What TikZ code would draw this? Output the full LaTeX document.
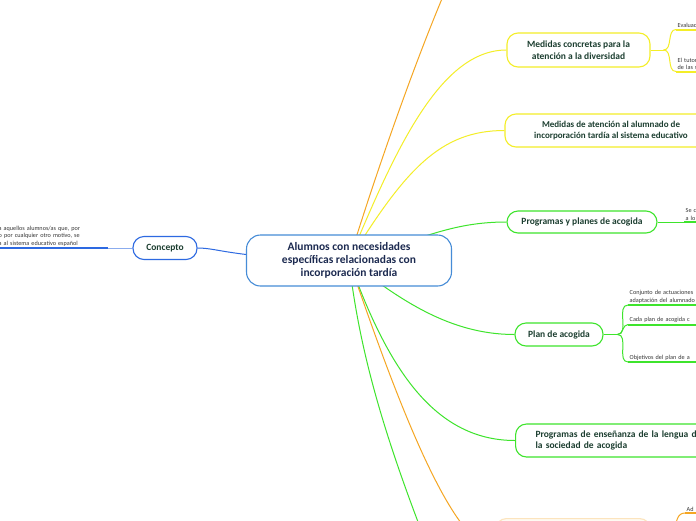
\documentclass[tikz,border=0pt]{standalone}
\usepackage{fontspec}
\setmainfont{Carlito}
\usepackage{xcolor}
\usetikzlibrary{backgrounds}
\definecolor{mmorange}{RGB}{245,166,35}
\definecolor{mmyellow}{RGB}{244,238,40}
\definecolor{mmgreen}{RGB}{62,228,44}
\definecolor{mmblue}{RGB}{45,105,225}
\definecolor{rootblue}{RGB}{70,140,215}
\definecolor{topictext}{RGB}{28,62,48}
\definecolor{roottext}{RGB}{28,42,80}
\definecolor{leaftext}{RGB}{55,55,55}

\begin{document}
\begin{tikzpicture}[
  x=1pt,y=-1pt,
  root/.style={draw=rootblue, fill=white, line width=1.1pt, rounded corners=14pt, align=center, text=roottext, font=\bfseries\fontsize{11.5}{13}\selectfont},
  topic/.style={fill=white, line width=1.1pt, rounded corners=11pt, align=center, inner sep=0pt, text=topictext, font=\bfseries\fontsize{9.5}{11.5}\selectfont},
  leaf/.style={anchor=south west, inner sep=1.5pt, text width=100pt, align=left, text=leaftext, font=\fontsize{6.2}{7.6}\selectfont},
  link/.style={line width=1pt},
  uline/.style={line width=2pt}]
\useasboundingbox (0,0) rectangle (696,520);
\clip (0,0) rectangle (696,520);
\node[root, minimum width=205, minimum height=51] (root) at (349,260.5) {Alumnos con necesidades\\específicas relacionadas con\\incorporación tardía};
\node[topic, draw=mmblue, minimum width=64, minimum height=23] (concepto) at (165,248) {Concepto};
\node[topic, draw=mmyellow, minimum width=143, minimum height=34] (diversidad) at (578.5,50) {Medidas concretas para la\\atención a la diversidad};
\node[topic, draw=mmyellow, minimum width=212, minimum height=33, font=\bfseries\fontsize{9}{11}\selectfont] (tardia) at (611,130.5) {Medidas de atención al alumnado de\\incorporación tardía al sistema educativo};
\node[topic, draw=mmgreen, minimum width=150, minimum height=22] (programas) at (582,222) {Programas y planes de acogida};
\node[topic, draw=mmgreen, minimum width=88, minimum height=23] (plan) at (559,334.5) {Plan de acogida};
\node[topic, draw=mmgreen, anchor=west, minimum height=33, text width=210pt, align=left, inner xsep=20pt] (lengua) at (515,440.5) {Programas de enseñanza de la lengua de\\la sociedad de acogida};
\node[topic, draw=mmorange!30, fill=mmorange!6, anchor=north west, minimum width=155, minimum height=60] (bottom) at (495,518) {};
\coordinate (arriba) at (450,-20);
\coordinate (abajo) at (428,548);

\node[leaf, text width=108pt] (defin) at (-3,248) {a aquellos alumnos/as que, por\\o por cualquier otro motivo, se\\a al sistema educativo español};
\node[leaf] (evalua) at (676,29.5) {Evaluación};
\node[leaf] (tutor) at (676,71.5) {El tutor\\de las se};
\node[leaf] (acoger) at (684,222) {Se c\\a lo};
\node[leaf] (conjunto) at (628,305) {Conjunto de actuaciones\\adaptación del alumnado};
\node[leaf] (cada) at (628,324.5) {Cada plan de acogida c};
\node[leaf] (objetivos) at (628,362) {Objetivos del plan de a};
\node[leaf] (ad) at (685,513) {Ad};

\begin{scope}[on background layer]
\fill[white] (0,0) rectangle (696,520);
\draw[link, mmorange] (root.center) .. controls (372,185) and (415,60) .. (arriba);
\draw[link, mmyellow] (root.center) .. controls (395,150) and (440,50) .. (diversidad.west);
\draw[link, mmyellow] (root.center) .. controls (405,170) and (440,130.5) .. (tardia.west);
\draw[link, mmgreen] (root.center) .. controls (420,240) and (450,222) .. (programas.west);
\draw[link, mmgreen] (root.center) .. controls (400,300) and (450,334.5) .. (plan.west);
\draw[link, mmgreen] (root.center) .. controls (385,360) and (430,440.5) .. (lengua.west);
\draw[link, mmgreen] (root.center) .. controls (360,360) and (390,450) .. (abajo);
\draw[link, mmorange] (root.center) .. controls (390,380) and (450,548) .. (bottom.west);
\draw[link, mmblue] (root.center) .. controls (230,258) and (220,248) .. (concepto.east);
\end{scope}

\draw[link, mmblue!55] (concepto.west) -- (defin.south east);
\draw[uline, mmblue] (defin.south west) -- (defin.south east);
\draw[link, mmyellow] (diversidad.east) -- ++(13,0) coordinate (jdiv);
\foreach \l in {evalua,tutor} {
  \draw[link, mmyellow] (jdiv) to[out=0,in=180] (\l.south west);
  \draw[uline, mmyellow] (\l.south west) -- (\l.south east);
}
\draw[link, mmgreen] (programas.east) -- (acoger.south west);
\draw[uline, mmgreen] (acoger.south west) -- (acoger.south east);
\draw[link, mmgreen] (plan.east) -- ++(14,0) coordinate (jplan);
\foreach \l in {conjunto,cada,objetivos} {
  \draw[link, mmgreen] (jplan) to[out=0,in=180] (\l.south west);
  \draw[uline, mmgreen] (\l.south west) -- (\l.south east);
}
\draw[link, mmorange] (bottom.east) -- ++(14,0) coordinate (jbot);
\draw[link, mmorange] (jbot) to[out=0,in=180] (ad.south west);
\draw[uline, mmorange] (ad.south west) -- (ad.south east);
\end{tikzpicture}
\end{document}
